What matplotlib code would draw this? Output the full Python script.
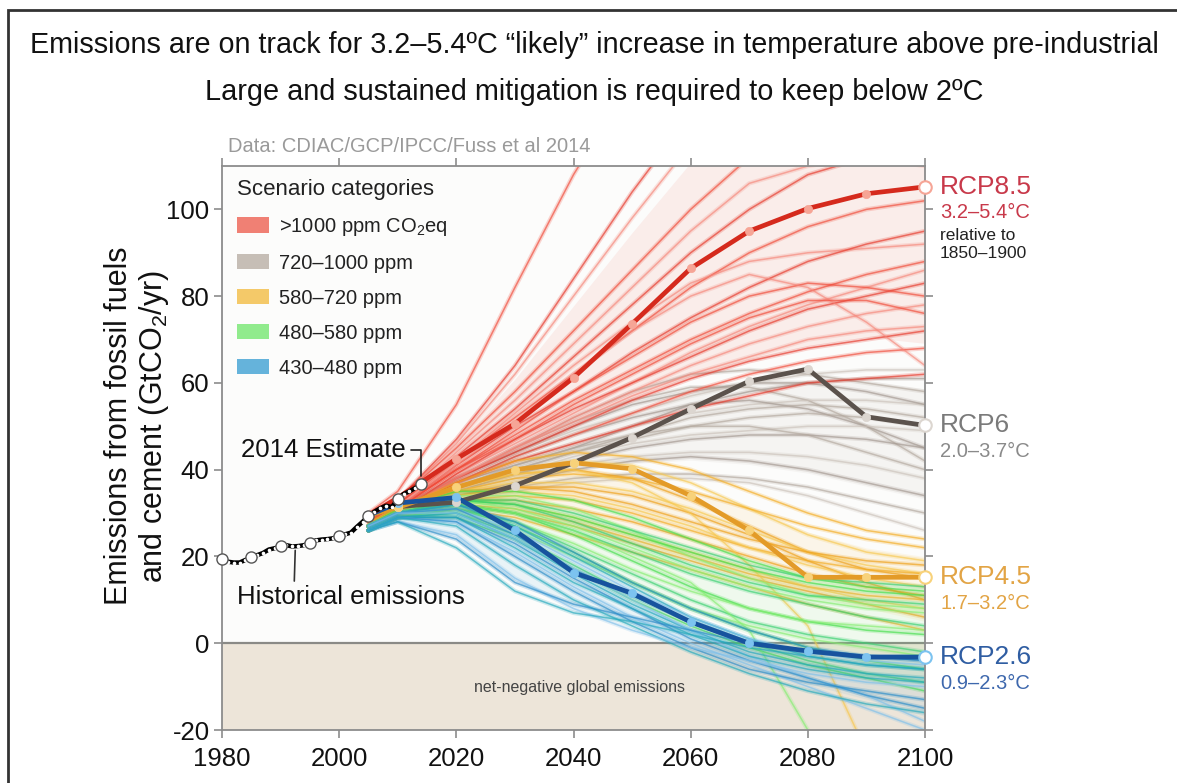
import matplotlib
matplotlib.use("Agg")
import matplotlib.pyplot as plt
import matplotlib.transforms as mtransforms
from matplotlib import font_manager
from matplotlib.patches import Patch, Rectangle
import numpy as np

# ---------------- data ----------------
HIST_YEARS = list(range(1980, 2015))
HIST_VALUES = [19.4, 18.8, 18.6, 18.6, 19.2, 19.8, 20.3, 20.8, 21.6, 21.9,
               22.3, 22.6, 22.3, 22.4, 22.6, 23.2, 23.7, 23.9, 24.0, 24.2,
               24.7, 25.1, 25.5, 26.8, 28.0, 29.3, 30.3, 31.1, 31.7, 31.4,
               33.2, 34.4, 35.0, 35.8, 36.8]
HIST_MARK_YEARS = [1980, 1985, 1990, 1995, 2000, 2005, 2010, 2014]

S_YEARS = [2005, 2010, 2020, 2030, 2040, 2050, 2060, 2070, 2080, 2090, 2100]

RCP85 = [29.5, 33.5, 42.5, 50.6, 61.2, 73.6, 86.4, 95.0, 100.2, 103.6, 105.2]
RCP6 = [29.5, 31.5, 32.5, 36.3, 41.6, 47.4, 54.0, 60.4, 63.2, 52.2, 50.2]
RCP45 = [29.5, 31.3, 35.9, 40.0, 41.6, 40.2, 34.0, 26.0, 15.2, 15.2, 15.2]
RCP26 = [29.5, 32.3, 33.6, 26.0, 16.3, 11.5, 4.9, 0.0, -1.8, -3.2, -3.2]

RED_LINES = [
    [30, 35, 55, 82, 108, 130, 150, 165, 175, 180, 185],
    [29, 33, 46, 62, 80, 98, 115, 130, 140, 148, 155],
    [28, 33, 47, 64, 84, 104, 122, 138, 150, 158, 162],
    [29, 33, 45, 58, 72, 86, 100, 112, 120, 126, 130],
    [28, 32, 44, 56, 69, 82, 95, 106, 110, 112, 110],
    [28, 32, 43, 54, 66, 78, 90, 100, 108, 112, 115],
    [28, 32, 42, 52, 62, 72, 82, 90, 96, 100, 102],
    [27, 31, 42, 53, 64, 74, 83, 88, 90, 91, 92],
    [27, 31, 41, 50, 58, 67, 75, 82, 88, 92, 95],
    [27, 31, 40, 48, 56, 63, 70, 76, 81, 85, 88],
    [26, 30, 39, 46, 53, 60, 67, 73, 78, 82, 86],
    [27, 30, 39, 47, 54, 60, 66, 72, 77, 80, 83],
    [27, 31, 40, 49, 58, 66, 74, 80, 83, 82, 80],
    [26, 30, 38, 45, 52, 58, 64, 69, 73, 76, 78],
    [26, 30, 38, 44, 50, 56, 61, 65, 68, 70, 72],
    [26, 30, 37, 43, 48, 53, 58, 62, 65, 67, 68],
    [27, 31, 41, 51, 62, 72, 80, 85, 82, 74, 64],
    [26, 30, 37, 42, 46, 50, 54, 57, 60, 61, 62],
    [27, 31, 40, 47, 55, 62, 69, 75, 79, 79, 76],
    [26, 30, 38, 45, 51, 57, 62, 66, 70, 72, 73],
]
GRAY_LINES = [
    [27, 31, 38, 45, 52, 58, 62, 63, 62, 60, 58],
    [27, 31, 38, 44, 49, 53, 57, 60, 62, 63, 63],
    [27, 31, 37, 41, 45, 50, 55, 58, 60, 61, 61],
    [27, 31, 38, 45, 51, 56, 59, 59, 56, 50, 42],
    [27, 31, 37, 42, 46, 50, 53, 55, 56, 56, 55],
    [27, 31, 37, 43, 48, 52, 55, 56, 54, 50, 45],
    [27, 30, 36, 40, 44, 47, 50, 52, 53, 52, 50],
    [26, 30, 35, 39, 43, 46, 48, 49, 50, 50, 49],
    [26, 30, 35, 39, 42, 45, 47, 48, 48, 47, 45],
    [26, 30, 36, 41, 45, 48, 50, 50, 48, 44, 40],
    [26, 30, 35, 38, 41, 43, 44, 44, 43, 41, 38],
    [26, 30, 34, 37, 40, 42, 43, 42, 40, 37, 34],
    [26, 29, 34, 36, 38, 39, 39, 38, 36, 33, 30],
    [26, 29, 33, 35, 37, 38, 38, 37, 34, 30, 26],
    [27, 31, 38, 44, 50, 55, 58, 60, 60, 58, 55],
    [26, 30, 36, 40, 44, 48, 52, 54, 55, 54, 52],
]
ORANGE_LINES = [
    [27, 31, 37, 42, 44, 43, 40, 35, 30, 26, 24],
    [27, 31, 36, 40, 42, 41, 37, 31, 25, 21, 19],
    [28, 31, 36, 39, 40, 38, 33, 27, 21, 17, 15],
    [27, 31, 35, 38, 39, 38, 35, 31, 27, 24, 22],
    [27, 31, 35, 37, 37, 35, 31, 26, 21, 18, 16],
    [27, 30, 34, 36, 36, 34, 30, 25, 19, 14, 10],
    [26, 30, 33, 34, 33, 30, 26, 22, 19, 17, 16],
    [27, 30, 34, 35, 34, 31, 27, 22, 18, 15, 13],
    [27, 30, 33, 33, 31, 28, 24, 20, 16, 13, 11],
    [26, 29, 32, 31, 28, 24, 20, 16, 13, 11, 10],
    [26, 30, 33, 32, 29, 25, 21, 17, 13, 10, 8],
    [26, 30, 32, 30, 27, 23, 19, 15, 12, 9, 6],
    [26, 29, 31, 29, 25, 21, 17, 13, 9, 6, 3],
    [27, 31, 36, 39, 40, 37, 30, 18, 4, -25, -50],
    [27, 31, 35, 36, 35, 32, 28, 24, 21, 19, 18],
]
GREEN_LINES = [
    [27, 31, 35, 35, 33, 29, 24, 19, 15, 13, 12],
    [27, 30, 34, 34, 31, 26, 20, 15, 11, 9, 8],
    [27, 30, 33, 33, 30, 26, 22, 18, 15, 14, 13],
    [27, 30, 33, 32, 29, 25, 21, 17, 14, 12, 11],
    [27, 30, 33, 31, 27, 22, 17, 13, 10, 8, 7],
    [27, 30, 32, 30, 26, 21, 16, 12, 9, 6, 4],
    [27, 30, 32, 30, 25, 19, 13, 8, 5, 3, 2],
    [26, 29, 31, 28, 23, 17, 12, 8, 5, 4, 3],
    [26, 30, 31, 28, 22, 16, 10, 5, 2, 0, -2],
    [26, 29, 31, 27, 21, 14, 8, 3, -1, -4, -6],
    [26, 29, 30, 26, 20, 14, 8, 4, 1, -1, -3],
    [26, 29, 30, 25, 18, 11, 5, 0, -4, -7, -9],
    [26, 29, 29, 24, 17, 10, 4, -1, -5, -8, -11],
    [26, 30, 32, 30, 26, 20, 14, 3, -20, -40, -55],
    [27, 30, 33, 32, 28, 23, 18, 14, 11, 10, 9],
]
BLUE_LINES = [
    [27, 30, 32, 28, 21, 14, 8, 3, -1, -3, -4],
    [27, 30, 32, 27, 20, 13, 6, 1, -3, -5, -6],
    [27, 30, 31, 26, 19, 12, 6, 1, -2, -4, -5],
    [27, 30, 31, 25, 17, 11, 5, 0, -2, -3, -3],
    [26, 29, 30, 24, 16, 9, 3, -2, -5, -7, -8],
    [27, 30, 30, 24, 17, 10, 3, -3, -8, -12, -18],
    [26, 29, 29, 23, 15, 8, 1, -4, -8, -12, -15],
    [26, 29, 29, 22, 14, 8, 2, -3, -6, -8, -9],
    [26, 29, 28, 21, 13, 6, 0, -5, -10, -15, -20],
    [26, 29, 28, 20, 12, 5, -1, -6, -9, -11, -13],
    [26, 29, 27, 18, 10, 4, -2, -7, -11, -14, -16],
    [26, 28, 25, 15, 8, 3, -1, -4, -7, -9, -10],
    [26, 28, 24, 14, 9, 6, 3, 0, -2, -3, -4],
    [26, 28, 22, 12, 7, 5, 2, -1, -3, -5, -6],
]

CATEGORY_LABELS = [">1000 ppm CO$_\\mathregular{2}$eq", "720\u20131000 ppm",
                   "580\u2013720 ppm", "480\u2013580 ppm", "430\u2013480 ppm"]
X_TICKS = [1980, 2000, 2020, 2040, 2060, 2080, 2100]
Y_TICKS = [-20, 0, 20, 40, 60, 80, 100]

TITLE1 = "Emissions are on track for 3.2\u20135.4\u00baC \u201clikely\u201d increase in temperature above pre-industrial"
TITLE2 = "Large and sustained mitigation is required to keep below 2\u00baC"

# ---------------- fonts ----------------
names = {f.name for f in font_manager.fontManager.ttflist}
BASE = "Liberation Sans" if "Liberation Sans" in names else "DejaVu Sans"
NARROW = "Liberation Sans Narrow" if "Liberation Sans Narrow" in names else BASE
plt.rcParams["font.family"] = [BASE, "DejaVu Sans"]
plt.rcParams["mathtext.fontset"] = "custom"
plt.rcParams["mathtext.rm"] = BASE
plt.rcParams["mathtext.it"] = BASE
plt.rcParams["mathtext.default"] = "regular"
plt.rcParams["axes.unicode_minus"] = False

W, H = 1177, 783
fig = plt.figure(figsize=(W / 100, H / 100), dpi=100)
fig.patch.set_facecolor("white")

ax_l, ax_r, ax_t, ax_b = 222, 925, 166, 730
ax = fig.add_axes([ax_l / W, 1 - ax_b / H, (ax_r - ax_l) / W, (ax_b - ax_t) / H])
ax.set_facecolor("#fcfcfb")
ax.set_xlim(1980, 2100)
ax.set_ylim(-20, 110)

# net negative band
ax.axhspan(-20, 0, color="#ede5d9", zorder=0.2, lw=0)
ax.axhline(0, color="#8a8a86", lw=1.6, zorder=0.3)

cats = [
    (GRAY_LINES, ["#b3a89e", "#cbc2ba", "#a39890"], "#bdb3aa"),
    (RED_LINES, ["#f04a38", "#f5877a", "#e6382a"], "#ee6a5c"),
    (ORANGE_LINES, ["#f3ac22", "#f7c850", "#eea018"], "#f3c050"),
    (GREEN_LINES, ["#45de4c", "#86ee72", "#3ad070"], "#7fe87a"),
    (BLUE_LINES, ["#2a8cc8", "#23a8bc", "#7fc0ea"], "#4aa6d6"),
]
for z, (lines, cols, main) in enumerate(cats):
    arr = np.array(lines, dtype=float)
    lo = np.percentile(arr, 12, axis=0)
    hi = np.percentile(arr, 88, axis=0)
    ax.fill_between(S_YEARS, lo, hi, color=main, alpha=0.10, lw=0, zorder=1 + z * 0.1)
    for i, ln in enumerate(lines):
        c = cols[i % len(cols)]
        ax.plot(S_YEARS, ln, color=c, lw=3.2, alpha=0.22, zorder=1.03 + z * 0.1,
                solid_capstyle="round", solid_joinstyle="round")
        ax.plot(S_YEARS, ln, color=c, lw=1.1, alpha=0.65, zorder=1.06 + z * 0.1,
                solid_capstyle="round", solid_joinstyle="round")

# RCP lines
rcps = [
    (RCP6, "#5b524c", "#dcd6d0"),
    (RCP45, "#e39b28", "#f8d27a"),
    (RCP26, "#17539e", "#7cc3f0"),
    (RCP85, "#d52a1d", "#f6a596"),
]
for vals, col, face in rcps:
    ax.plot(S_YEARS, vals, color=col, lw=3.4, zorder=3, solid_joinstyle="round")
    ax.plot(S_YEARS[1:-1], vals[1:-1], "o", ms=6, mfc=face, mec=face, mew=0.5, zorder=3.1, ls="none")
    ax.plot([S_YEARS[-1]], [vals[-1]], "o", ms=9, mfc="white", mec=face, mew=1.5, zorder=3.2,
            clip_on=False)

# historical
ax.plot(HIST_YEARS, HIST_VALUES, color="black", lw=3.2, zorder=4, solid_capstyle="round")
ax.plot(HIST_YEARS, HIST_VALUES, ls="none", marker="o", ms=1.6, mfc="white", mec="white", zorder=4.1)
hm = [HIST_VALUES[HIST_YEARS.index(y)] for y in HIST_MARK_YEARS]
ax.plot(HIST_MARK_YEARS, hm, ls="none", marker="o", ms=8, mfc="white", mec="#555555", mew=1.0,
        zorder=4.2, clip_on=False)

# axes styling
for s in ax.spines.values():
    s.set_color("#8c8c8c")
    s.set_linewidth(1.3)
ax.set_xticks(X_TICKS)
ax.set_yticks(Y_TICKS)
ax.tick_params(direction="out", length=6, width=1.2, color="#8c8c8c", top=True, right=True,
               labeltop=False, labelright=False, labelsize=18.5, labelcolor="#111111")
ax.tick_params(axis="x", pad=6)
ax.tick_params(axis="y", pad=3)
ax.set_ylabel("Emissions from fossil fuels\nand cement (GtCO$_\\mathregular{2}$/yr)",
              fontsize=22, color="#111111", linespacing=1.12)
ax.yaxis.set_label_coords(-0.072, (ax_b - 426) / (ax_b - ax_t))

# legend
handles = [Patch(facecolor=c[2], edgecolor="none", alpha=0.85) for c in
           [cats[1], cats[0], cats[2], cats[3], cats[4]]]
leg = ax.legend(handles, CATEGORY_LABELS, title="Scenario categories", loc="upper left",
                bbox_to_anchor=(0.021, 0.977), frameon=False, fontsize=14.5,
                title_fontsize=16, handlelength=1.6, handleheight=0.8, handletextpad=0.5,
                labelspacing=0.79, borderpad=0, borderaxespad=0, alignment="left")
for t in leg.get_texts():
    t.set_color("#222222")
leg.get_title().set_color("#222222")

# RCP labels
def off(dy):
    return mtransforms.offset_copy(ax.transData, fig=fig, x=15, y=dy, units="dots")

rcp_labels = [
    (RCP85[-1], "RCP8.5", "3.2\u20135.4\u00b0C", "#c8394a", "#c8394a"),
    (RCP6[-1], "RCP6", "2.0\u20133.7\u00b0C", "#7a7a7a", "#8a8a8a"),
    (RCP45[-1], "RCP4.5", "1.7\u20133.2\u00b0C", "#e2a445", "#e2a445"),
    (RCP26[-1], "RCP2.6", "0.9\u20132.3\u00b0C", "#2f5da2", "#3e68ad"),
]
for v, name, rng, c1, c2 in rcp_labels:
    ax.text(2100, v, name, transform=off(0), ha="left", va="center", fontsize=19, color=c1,
            clip_on=False)
    ax.text(2100, v, rng, transform=off(-26), ha="left", va="center", fontsize=14.5, color=c2,
            clip_on=False)
ax.text(2100, RCP85[-1], "relative to", transform=off(-49), ha="left", va="center",
        fontsize=12.5, color="#222222", clip_on=False)
ax.text(2100, RCP85[-1], "1850\u20131900", transform=off(-67), ha="left", va="center",
        fontsize=12.5, color="#222222", clip_on=False)

# annotations
ax.annotate("2014 Estimate", xy=(2014, 38.6), xytext=(2011.3, 44.6), ha="right", va="center",
            fontsize=18.5, color="#111111", zorder=6,
            arrowprops=dict(arrowstyle="-", color="#222222", lw=1.2, relpos=(1.0, 0.5),
                            connectionstyle="angle,angleA=0,angleB=90,rad=0",
                            shrinkA=2, shrinkB=0))
ax.annotate("Historical emissions", xy=(1992.5, 21.4), xytext=(1982.6, 10.6), ha="left",
            va="center", fontsize=18.5, color="#111111", zorder=6,
            arrowprops=dict(arrowstyle="-", color="#333333", lw=1.2, relpos=(0.25, 1.0),
                            shrinkA=1, shrinkB=0))
ax.text(2041, -10.3, "net-negative global emissions", ha="center", va="center", fontsize=11.5,
        color="#444444", zorder=5)

# source
fig.text(228 / W, 1 - 147 / H, "Data: CDIAC/GCP/IPCC/Fuss et al 2014", ha="left", va="center",
         fontsize=14.5, color="#9a9a9a")

# titles (fit to reference widths)
t1 = fig.text(0.505, 1 - 45 / H, TITLE1, ha="center", va="center", fontsize=23,
              family=[NARROW, "DejaVu Sans"], color="#111111")
t2 = fig.text(0.505, 1 - 92 / H, TITLE2, ha="center", va="center", fontsize=23,
              family=[NARROW, "DejaVu Sans"], color="#111111")
fig.canvas.draw()
r = fig.canvas.get_renderer()
for t, target in [(t1, 1132), (t2, 780)]:
    w = t.get_window_extent(r).width
    t.set_fontsize(t.get_fontsize() * target / w)

# outer frame
fig.patches.append(Rectangle((8 / W, -0.1), 1.2, 1 - 10 / H + 0.1, transform=fig.transFigure,
                             fill=False, ec="#333333", lw=2, clip_on=False))

fig.savefig("out.png", dpi=100)
